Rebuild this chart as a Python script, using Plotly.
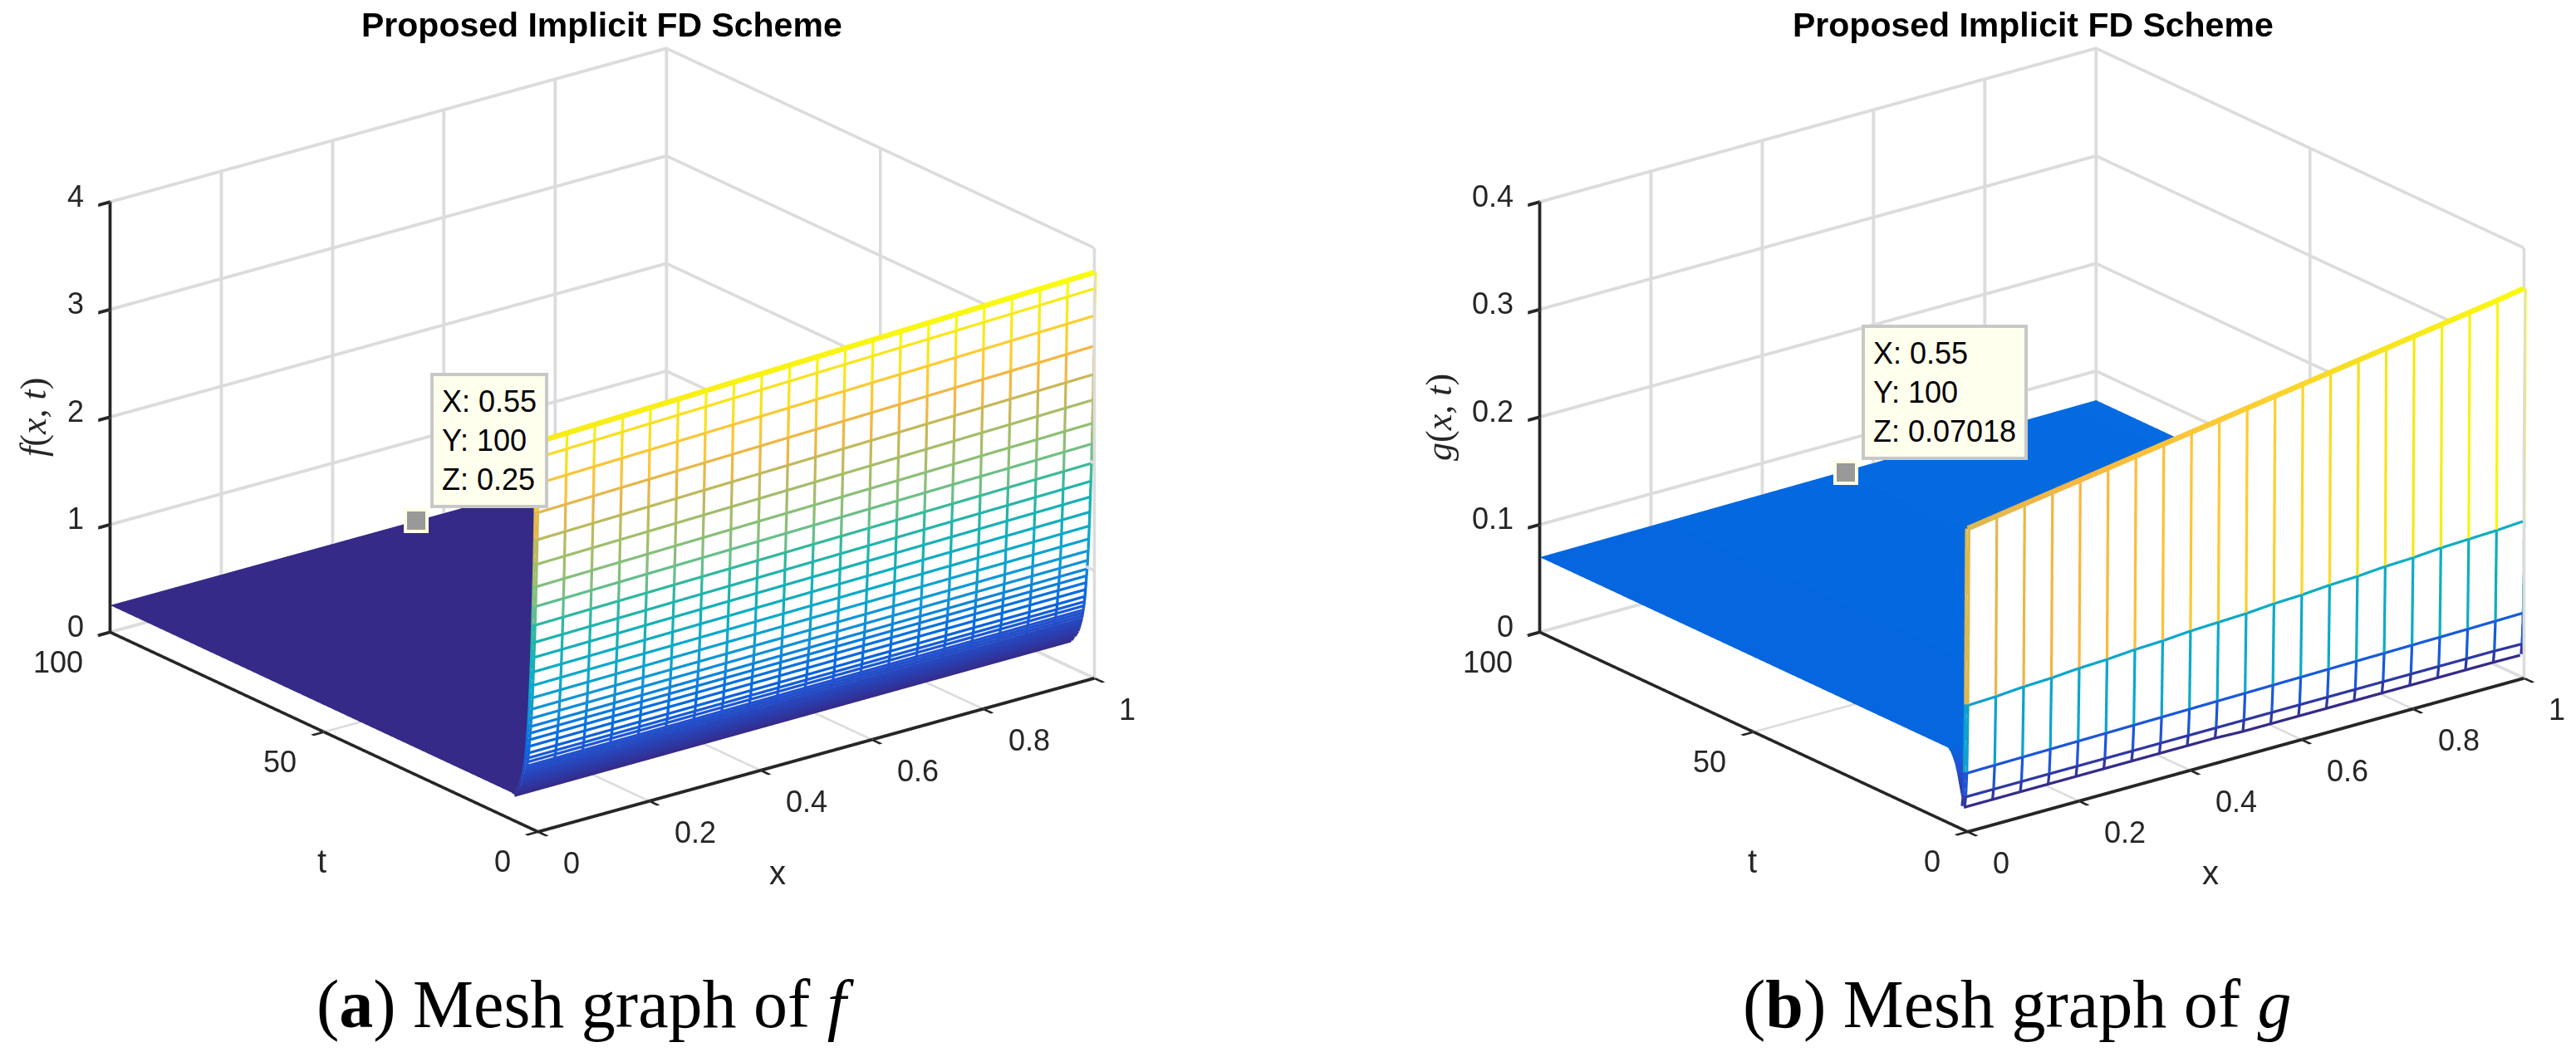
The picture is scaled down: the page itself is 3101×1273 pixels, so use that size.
import plotly.graph_objects as go

# mesh columns shared by both panels
x_grid = [0, 0.05, 0.1, 0.15, 0.2, 0.25, 0.3, 0.35, 0.4, 0.45, 0.5,
          0.55, 0.6, 0.65, 0.7, 0.75, 0.8, 0.85, 0.9, 0.95, 1]

# f(x,t): mesh rows
f_t = [0, 0.125, 0.25, 0.375, 0.5, 0.625, 0.75, 0.875, 1, 1.125, 1.25, 1.375,
       1.5, 1.625, 1.75, 1.875, 2, 2.125, 2.25, 2.375, 2.5, 2.625, 2.75, 2.875,
       3, 3.125, 3.25, 3.375, 3.5, 3.625, 3.75, 3.875, 4, 4.125, 4.25, 4.375,
       4.5, 4.625, 4.75, 4.875, 5, 5.125, 5.25, 5.375, 5.5, 5.6]
f_z = [3.70, 3.56, 3.31, 3.03, 2.77, 2.535, 2.32, 2.13, 1.95, 1.785, 1.64, 1.50,
       1.37, 1.25, 1.14, 1.05, 0.97, 0.905, 0.84, 0.775, 0.71, 0.66, 0.62, 0.58,
       0.55, 0.52, 0.49, 0.47, 0.45, 0.43, 0.41, 0.39, 0.375, 0.36, 0.35, 0.34,
       0.33, 0.32, 0.31, 0.30, 0.295, 0.29, 0.28, 0.27, 0.26, 0.25]
f_col_scale = [0.98, 0.982, 0.984, 0.986, 0.988, 0.99, 0.992, 0.994, 0.996, 0.998, 1,
               1.002, 1.004, 1.006, 1.008, 1.01, 1.012, 1.014, 1.016, 1.018, 1.02]
f_back_t = [5.6, 100]
f_back_z = [0.25, 0.25]

# g(x,t): rows at t = 0 .. 1, one list per row
g_t = [0, 0.25, 0.5, 0.75, 1]
g_rows = [
    [0.282, 0.286, 0.290, 0.294, 0.298, 0.302, 0.306, 0.310, 0.314, 0.318, 0.322,
     0.326, 0.330, 0.334, 0.338, 0.342, 0.346, 0.350, 0.354, 0.358, 0.3625],
    [0.118, 0.119, 0.121, 0.122, 0.124, 0.125, 0.127, 0.128, 0.130, 0.131, 0.132,
     0.134, 0.135, 0.137, 0.138, 0.140, 0.141, 0.143, 0.144, 0.145, 0.1467],
    [0.0545, 0.0548, 0.0551, 0.0554, 0.0557, 0.056, 0.0563, 0.0566, 0.0569, 0.0572, 0.0575,
     0.0578, 0.0581, 0.0584, 0.0587, 0.059, 0.0593, 0.0596, 0.0599, 0.0603, 0.0607],
    [0.032, 0.032, 0.032, 0.032, 0.032, 0.032, 0.032, 0.032, 0.032, 0.032, 0.032,
     0.032, 0.032, 0.032, 0.032, 0.032, 0.032, 0.032, 0.032, 0.032, 0.0315],
    [0.022, 0.022, 0.022, 0.022, 0.022, 0.022, 0.022, 0.022, 0.022, 0.022, 0.021,
     0.021, 0.021, 0.021, 0.021, 0.021, 0.021, 0.021, 0.021, 0.021, 0.0207],
]
g_back_t = [1, 1.5, 2, 2.5, 3, 3.5, 4, 4.6, 100]
g_back_left = [0.022, 0.030, 0.040, 0.050, 0.058, 0.063, 0.067, 0.0697, 0.0697]
g_back_right = [0.0207, 0.030, 0.041, 0.051, 0.060, 0.066, 0.070, 0.0729, 0.0729]

# data tips
tip_x = 0.55
tip_t = 100
f_tip_z = 0.25
g_tip_z = 0.07018

x_ticks = [0, 0.2, 0.4, 0.6, 0.8, 1]
x_labels = ["0", "0.2", "0.4", "0.6", "0.8", "1"]
t_ticks = [0, 50, 100]
t_labels = ["0", "50", "100"]
f_ticks = [0, 1, 2, 3, 4]
f_labels = ["0", "1", "2", "3", "4"]
g_ticks = [0, 0.1, 0.2, 0.3, 0.4]
g_labels = ["0", "0.1", "0.2", "0.3", "0.4"]

PARULA = [[0, "#352a87"], [0.05, "#2a3fb0"], [0.1, "#1f55d5"], [0.144, "#0468e0"], [0.17, "#0a72e0"],
          [0.23, "#1290d8"], [0.31, "#0ca8cb"], [0.39, "#14b0b8"], [0.48, "#30b8a0"], [0.53, "#68bf8a"],
          [0.59, "#8cbf78"], [0.66, "#a8bd68"], [0.73, "#c8b858"], [0.765, "#dcb850"], [0.81, "#f9b640"],
          [0.89, "#fcd030"], [0.93, "#f8e01f"], [1, "#f9fb0e"]]

W, H = 3101, 1273
ASPECT = 1.69
TICK_FONT = dict(family="Liberation Sans", size=36, color="#262626")


def mesh_lines(x, t, z):
    # rows keep their colour along x, column pieces take the colour of their upper row
    xs, ts, zs, cs = [], [], [], []
    for j in range(len(t)):
        for i in range(len(x)):
            xs.append(x[i]); ts.append(t[j]); zs.append(z[j][i]); cs.append(z[j][i])
        xs.append(None); ts.append(None); zs.append(None); cs.append(0)
    for i in range(len(x)):
        for j in range(len(t) - 1):
            xs += [x[i], x[i], None]
            ts += [t[j], t[j + 1], None]
            zs += [z[j][i], z[j + 1][i], None]
            cs += [z[j][i], z[j][i], 0]
    return xs, ts, zs, cs


def add_panel(fig, scene, x, t, z, back_x, back_t, back_z, cmin, cmax):
    # white faces hide what is behind the wall, like a matlab mesh
    fig.add_trace(go.Surface(x=x, y=t, z=z, scene=scene, showscale=False,
                             colorscale=[[0, "white"], [1, "white"]], hoverinfo="skip",
                             lighting=dict(ambient=1, diffuse=0, specular=0, fresnel=0)))
    fig.add_trace(go.Surface(x=back_x, y=back_t, z=back_z, surfacecolor=back_z, scene=scene,
                             showscale=False, colorscale=PARULA, cmin=cmin, cmax=cmax, hoverinfo="skip",
                             lighting=dict(ambient=1, diffuse=0, specular=0, fresnel=0)))
    xs, ts, zs, cs = mesh_lines(x, t, z)
    fig.add_trace(go.Scatter3d(x=xs, y=ts, z=zs, mode="lines", scene=scene, hoverinfo="skip",
                               line=dict(color=cs, colorscale=PARULA, cmin=cmin, cmax=cmax, width=13)))


def axis(rng, ticks):
    return dict(range=rng, tickmode="array", tickvals=ticks, title="", showticklabels=False,
                showbackground=False, showspikes=False, zeroline=False,
                showgrid=True, gridcolor="#dcdcdc", gridwidth=8,
                showline=True, linecolor="#262626", linewidth=8,
                ticks="outside", ticklen=18, tickwidth=8, tickcolor="#262626")


def tick_notes(z_ticks, z_labels, tip_z):
    # tick labels stay tied to the data coordinates, only nudged off the axis
    notes = []
    for v, s in zip(x_ticks, x_labels):
        notes.append(dict(x=v, y=0, z=0, text=s, showarrow=False, xanchor="left", xshift=28, yshift=-38, font=TICK_FONT))
    for v, s in zip(t_ticks, t_labels):
        notes.append(dict(x=0, y=v, z=0, text=s, showarrow=False, xanchor="right", xshift=-31, yshift=-36, font=TICK_FONT))
    for v, s in zip(z_ticks, z_labels):
        notes.append(dict(x=0, y=100, z=v, text=s, showarrow=False, xanchor="right", xshift=-30, yshift=7, font=TICK_FONT))
    # the data tip's square marker
    notes.append(dict(x=tip_x, y=tip_t, z=tip_z, text=" ", showarrow=False, width=22, height=22, bgcolor="#999999",
                      bordercolor="#ffffe6", borderwidth=4, borderpad=0, font=dict(size=10)))
    return notes


def scene_layout(cx, cy, z_rng, z_ticks, z_labels, tip_z):
    half_w, half_h = 650, 500
    return dict(
        domain=dict(x=[(cx - half_w) / W, (cx + half_w) / W], y=[1 - (cy + half_h) / H, 1 - (cy - half_h) / H]),
        xaxis=axis([0, 1], x_ticks),
        yaxis=axis([0, 100], t_ticks),
        zaxis=axis(z_rng, z_ticks),
        annotations=tick_notes(z_ticks, z_labels, tip_z),
        aspectmode="manual", aspectratio=dict(x=ASPECT, y=ASPECT, z=0.657 * ASPECT),
        camera=dict(projection=dict(type="orthographic"), up=dict(x=0, y=0, z=1), center=dict(x=0, y=0, z=0),
                    eye=dict(x=-1.2, y=-1.56, z=0.757)),
    )


def label(px, py, text, size, family="Liberation Sans", color="#262626", angle=0, **kw):
    return dict(x=px / W, y=1 - py / H, xref="paper", yref="paper", text=text, showarrow=False, textangle=angle,
                xanchor="center", yanchor="middle", font=dict(family=family, size=size, color=color), **kw)


def datatip(px, py, text):
    return dict(x=px / W, y=1 - py / H, xref="paper", yref="paper", text=text, showarrow=False, align="left",
                xanchor="left", yanchor="top", bgcolor="#ffffee", bordercolor="#c8c8c8", borderwidth=4, borderpad=10,
                font=dict(family="Liberation Sans", size=36, color="#000000"))


fig = go.Figure()

f_grid = [[v * s for s in f_col_scale] for v in f_z]
add_panel(fig, "scene", x_grid, f_t, f_grid, [0, 1], f_back_t, [[v, v] for v in f_back_z], 0.25, 3.77)
g_back = [[a, b] for a, b in zip(g_back_left, g_back_right)]
add_panel(fig, "scene2", x_grid, g_t, g_rows, [0, 1], g_back_t, g_back, 0.0207, 0.3625)

fig.update_layout(
    width=W, height=H, margin=dict(l=0, r=0, t=0, b=0), showlegend=False,
    paper_bgcolor="white", hovermode=False,
    scene=scene_layout(725, 530, [0, 4], f_ticks, f_labels, f_tip_z),
    scene2=scene_layout(2446, 530, [0, 0.4], g_ticks, g_labels, g_tip_z),
    annotations=[
        label(724, 30, "<b>Proposed Implicit FD Scheme</b>", 41, color="#000000"),
        label(2447, 30, "<b>Proposed Implicit FD Scheme</b>", 41, color="#000000"),
        label(936, 1051, "x", 40),
        label(387, 1037, "t", 40),
        label(40, 503, "<i>f</i>(<i>x, t</i>)", 44, family="Liberation Serif", angle=-90),
        label(2661, 1051, "x", 40),
        label(2109, 1037, "t", 40),
        label(1732, 503, "<i>g</i>(<i>x, t</i>)", 44, family="Liberation Serif", angle=-90),
        label(705, 1209, "(<b>a</b>) Mesh graph of <i>f</i>", 82, family="Liberation Serif", color="#000000"),
        label(2428, 1209, "(<b>b</b>) Mesh graph of <i>g</i>", 82, family="Liberation Serif", color="#000000"),
        datatip(518, 449, "X: 0.55<br>Y: 100<br>Z: 0.25"),
        datatip(2241, 391, "X: 0.55<br>Y: 100<br>Z: 0.07018"),
    ],
)

fig.write_html("out.html", config=dict(displayModeBar=False), post_script="document.body.style.margin='0';")
